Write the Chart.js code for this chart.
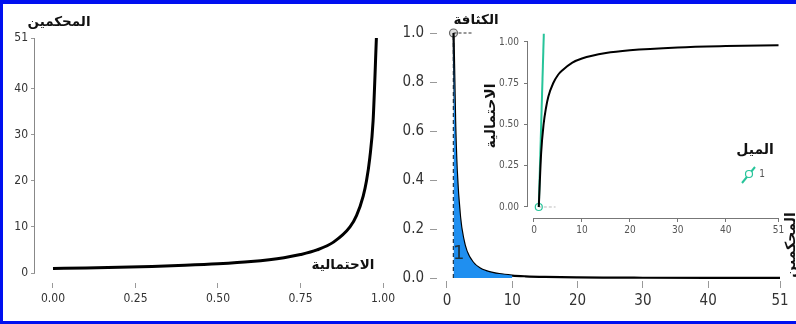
<!DOCTYPE html>
<html>
<head>
<meta charset="utf-8">
<script src="https://cdn.jsdelivr.net/npm/chart.js@4.4.1/dist/chart.umd.min.js"></script>
<style>
  html, body { margin: 0; padding: 0; background: #fff; }
  #wrap { position: relative; width: 796px; height: 324px; overflow: hidden; }
  #wrap canvas { position: absolute; left: 0; top: 0; }
  #frame { position: absolute; left: 0; top: 0; width: 796px; height: 324px; box-sizing: border-box;
           border-top: 4px solid #0010f0; border-left: 3px solid #0010f0; border-bottom: 3px solid #0010f0; pointer-events: none; }
</style>
</head>
<body>
<div id="wrap">
  <canvas id="c1" width="796" height="324"></canvas>
  <canvas id="c2" width="796" height="324"></canvas>
  <canvas id="c3" width="796" height="324"></canvas>
  <div id="frame"></div>
</div>
<script>
// panel 1 : المحكمين مقابل الاحتمالية
const probValues  = [0, 0.1, 0.2, 0.3, 0.4, 0.5, 0.6, 0.7, 0.75, 0.8, 0.85, 0.9, 0.92, 0.94, 0.95, 0.96, 0.97, 0.98];
const judgeValues = [1, 1.1, 1.25, 1.43, 1.67, 2, 2.5, 3.33, 4, 5, 6.7, 10, 12.5, 16.7, 20, 25, 33, 51];
const probTicks   = [0, 0.25, 0.5, 0.75, 1];
const judgeTicks  = [0, 10, 20, 30, 40, 51];

// panel 2 : الكثافة
const densX       = [1, 1.25, 1.5, 2, 2.5, 3, 4, 5, 6, 8, 10, 12, 15, 20, 25, 30, 40, 51];
const densValues  = [1, 0.64, 0.44, 0.25, 0.16, 0.11, 0.063, 0.04, 0.028, 0.016, 0.01, 0.007, 0.0045, 0.0025, 0.0016, 0.0011, 0.0006, 0.0004];
const shadedUpTo  = 10;
const densTicks   = [0, 0.2, 0.4, 0.6, 0.8, 1.0];
const densXTicks  = [0, 10, 20, 30, 40, 51];

// inset : الاحتمالية التراكمية + الميل
const cumX        = [1, 1.5, 2, 2.5, 3, 4, 5, 6, 8, 10, 15, 20, 30, 40, 51];
const cumValues   = [0, 0.33, 0.5, 0.6, 0.67, 0.75, 0.8, 0.83, 0.875, 0.9, 0.933, 0.95, 0.967, 0.975, 0.98];
const slopeX      = [1, 2.05];
const slopeY      = [0, 1.05];
const slopeLabel  = '1';
const cumTicks    = [0, 0.25, 0.5, 0.75, 1];
const cumXTicks   = [0, 10, 20, 30, 40, 51];

const NARROW = '"Liberation Sans Narrow", "DejaVu Sans Condensed", "Arial Narrow", sans-serif';
const ARABIC = '"DejaVu Sans", sans-serif';
const GREEN = '#27c49a';

const pts = (xs, ys) => xs.map((x, i) => ({ x: x, y: ys[i] }));

// R style axis line, only between first and last tick
const rAxisLines = {
  id: 'rAxisLines',
  afterDraw(chart, args, opts) {
    const ctx = chart.ctx;
    ctx.save();
    ctx.strokeStyle = opts.color || '#888';
    ctx.lineWidth = 1;
    (opts.axes || []).forEach(id => {
      const s = chart.scales[id];
      const a = s.ticks[0].value, b = s.ticks[s.ticks.length - 1].value;
      ctx.beginPath();
      if (s.isHorizontal()) {
        const y = Math.round(s.top) + 0.5;
        ctx.moveTo(s.getPixelForValue(a), y); ctx.lineTo(s.getPixelForValue(b), y);
      } else {
        const x = Math.round(s.right) - 0.5;
        ctx.moveTo(x, s.getPixelForValue(a)); ctx.lineTo(x, s.getPixelForValue(b));
      }
      ctx.stroke();
    });
    ctx.restore();
  }
};

// free text labels (titles written next to the axes)
const textMarks = {
  id: 'textMarks',
  afterDraw(chart, args, opts) {
    const ctx = chart.ctx;
    (opts.items || []).forEach(t => {
      ctx.save();
      ctx.font = t.font;
      ctx.fillStyle = t.color || '#111';
      ctx.textAlign = 'center';
      ctx.textBaseline = 'middle';
      let x = t.x, y = t.y;
      if (t.data) { x = chart.scales.x.getPixelForValue(t.data[0]); y = chart.scales.y.getPixelForValue(t.data[1]); }
      ctx.translate(x, y);
      if (t.rotate) ctx.rotate(t.rotate);
      ctx.fillText(t.text, 0, 0);
      ctx.restore();
    });
  }
};

// small legend of the inset (الميل)
const slopeLegend = {
  id: 'slopeLegend',
  afterDraw(chart, args, opts) {
    if (!opts.title) return;
    const ctx = chart.ctx;
    const ds = chart.data.datasets[opts.datasetIndex];
    ctx.save();
    ctx.font = 'bold 14px ' + ARABIC;
    ctx.fillStyle = '#111';
    ctx.textAlign = 'center'; ctx.textBaseline = 'middle';
    ctx.fillText(opts.title, opts.x, opts.y);
    const cx = opts.x - 6, cy = opts.y + 24;
    ctx.strokeStyle = ds.borderColor; ctx.lineWidth = 2;
    ctx.beginPath(); ctx.moveTo(cx - 7, cy + 9); ctx.lineTo(cx + 6, cy - 7); ctx.stroke();
    ctx.lineWidth = 1.2; ctx.fillStyle = '#fff';
    ctx.beginPath(); ctx.arc(cx, cy, 3.5, 0, Math.PI * 2); ctx.fill(); ctx.stroke();
    ctx.font = '10px ' + NARROW; ctx.fillStyle = '#555';
    ctx.fillText(opts.label, cx + 13, cy);
    ctx.restore();
  }
};

function scaleOpts(o) {
  return {
    type: 'linear', min: o.min, max: o.max,
    afterFit: s => { if (o.width) s.width = o.width; if (o.height) s.height = o.height; },
    afterBuildTicks: s => { s.ticks = o.ticks.map(v => ({ value: v })); },
    grid: { drawOnChartArea: false, drawTicks: true, tickLength: o.tickLength, color: o.tickColor || '#999' },
    border: { display: false },
    ticks: { callback: o.fmt, font: { family: NARROW, size: o.size }, color: o.color || '#333',
             padding: o.pad, maxRotation: 0, autoSkip: false }
  };
}

// ---- panel 1
new Chart(document.getElementById('c1'), {
  type: 'line',
  data: {
    datasets: [{
      data: pts(probValues, judgeValues),
      borderColor: '#000', borderWidth: 3, pointRadius: 0,
      cubicInterpolationMode: 'monotone', fill: false
    }]
  },
  options: {
    responsive: false, animation: false,
    layout: { padding: { left: 0, right: 413, top: 38, bottom: 11 } },
    plugins: {
      legend: { display: false }, tooltip: { enabled: false },
      rAxisLines: { axes: ['y'] },
      textMarks: { items: [
        { text: 'المحكمين', x: 59, y: 22, font: 'bold 13.5px ' + ARABIC },
        { text: 'الاحتمالية', x: 343, y: 265, font: 'bold 13.5px ' + ARABIC }
      ] }
    },
    scales: {
      x: scaleOpts({ min: -0.0545, max: 1, height: 30, ticks: probTicks, tickLength: 5, size: 12, pad: 4, fmt: v => v.toFixed(2) }),
      y: scaleOpts({ min: -2.17, max: 51, width: 35, ticks: judgeTicks, tickLength: 4, size: 12, pad: 3, fmt: v => String(v) })
    }
  },
  plugins: [rAxisLines, textMarks]
});

// ---- panel 2 (density)
const shadedIdx = densX.filter(x => x <= shadedUpTo).length;
new Chart(document.getElementById('c2'), {
  type: 'line',
  data: {
    datasets: [
      { data: pts(densX.slice(0, shadedIdx), densValues.slice(0, shadedIdx)),
        borderWidth: 0, pointRadius: 0, backgroundColor: '#1f8ff0', fill: 'origin', cubicInterpolationMode: 'monotone' },
      { data: pts(densX, densValues), borderColor: '#000', borderWidth: 2.2, pointRadius: 0, fill: false, cubicInterpolationMode: 'monotone' },
      { data: [{ x: densX[0], y: 0 }, { x: densX[0], y: densValues[0] }], borderColor: '#222', borderWidth: 1.5, borderDash: [4, 3], pointRadius: 0, fill: false },
      { data: [{ x: densX[0], y: densValues[0] }, { x: 4, y: densValues[0] }], borderColor: '#333', borderWidth: 1.2, borderDash: [3, 2], pointRadius: 0, fill: false, clip: false },
      { data: [{ x: densX[0], y: densValues[0] }], showLine: false, pointRadius: 4, pointBorderWidth: 1.2,
        pointBorderColor: '#666', pointBackgroundColor: '#ddd', clip: false }
    ]
  },
  options: {
    responsive: false, animation: false,
    layout: { padding: { left: 400, right: 16, top: 33, bottom: 10 } },
    plugins: {
      legend: { display: false }, tooltip: { enabled: false },
      textMarks: { items: [
        { text: 'الكثافة', x: 476, y: 20, font: 'bold 13.5px ' + ARABIC },
        { text: '1', data: [1.8, 0.1], font: '20px ' + NARROW, color: '#1d3340' },
        { text: 'المحكمين', x: 791, y: 245, rotate: -Math.PI / 2, font: 'bold 14px ' + ARABIC }
      ] }
    },
    scales: {
      x: scaleOpts({ min: -1.53, max: 51, height: 33, ticks: densXTicks, tickLength: 7, size: 15, pad: 4, fmt: v => String(v) }),
      y: scaleOpts({ min: -0.0122, max: 1, width: 37, ticks: densTicks, tickLength: 7, size: 15, pad: 6, fmt: v => v.toFixed(1) })
    }
  },
  plugins: [textMarks]
});

// ---- inset (cumulative)
new Chart(document.getElementById('c3'), {
  type: 'line',
  data: {
    datasets: [
      { data: pts(cumX, cumValues), borderColor: '#000', borderWidth: 2, pointRadius: 0, fill: false, cubicInterpolationMode: 'monotone' },
      { data: pts(slopeX, slopeY), borderColor: GREEN, borderWidth: 2, pointRadius: 0, fill: false },
      { data: [{ x: cumX[0], y: 0 }, { x: 4.5, y: 0 }], borderColor: '#bbb', borderWidth: 1, borderDash: [3, 2], pointRadius: 0, fill: false },
      { data: [{ x: cumX[0], y: 0 }], showLine: false, pointRadius: 3.5, pointBorderWidth: 1.2,
        pointBorderColor: GREEN, pointBackgroundColor: '#fff', clip: false }
    ]
  },
  options: {
    responsive: false, animation: false,
    layout: { padding: { left: 480, right: 14.6, top: 33, bottom: 86 } },
    plugins: {
      legend: { display: false }, tooltip: { enabled: false },
      rAxisLines: { axes: ['x', 'y'], color: '#777' },
      slopeLegend: { title: 'الميل', label: slopeLabel, datasetIndex: 1, x: 755, y: 150 },
      textMarks: { items: [
        { text: 'الاحتمالية', x: 491, y: 116, rotate: -Math.PI / 2, font: 'bold 14px ' + ARABIC }
      ] }
    },
    scales: {
      x: scaleOpts({ min: -1.249, max: 51.6, height: 20, ticks: cumXTicks, tickLength: 4, size: 10, pad: 2, color: '#555', tickColor: '#777', fmt: v => String(v) }),
      y: scaleOpts({ min: -0.0667, max: 1.0545, width: 48, ticks: cumTicks, tickLength: 4, size: 10, pad: 5, color: '#555', tickColor: '#777', fmt: v => v.toFixed(2) })
    }
  },
  plugins: [rAxisLines, textMarks, slopeLegend]
});
</script>
</body>
</html>
